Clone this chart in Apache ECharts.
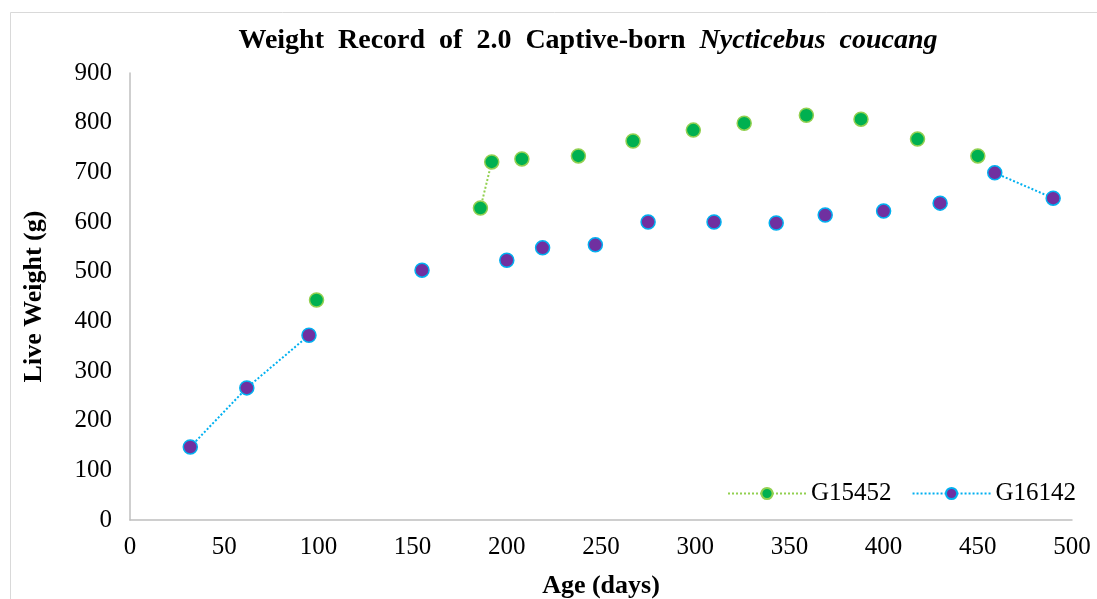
<!DOCTYPE html>
<html>
<head>
<meta charset="utf-8">
<script src="https://cdn.jsdelivr.net/npm/echarts@6.0.0/dist/echarts.min.js"></script>
<style>
  html, body { margin: 0; padding: 0; background: #fff; }
  #chart { width: 1097px; height: 599px; }
</style>
</head>
<body>
<div id="chart"></div>
<script>
// null in both arrays = a break in the dotted line
const greenAge = [99, null, 186, 192, null, 208, null, 238, null, 267, null, 299, null, 326, null, 359, null, 388, null, 418, null, 450];
const greenWeight = [443, null, 628, 721, null, 727, null, 733, null, 763, null, 785, null, 799, null, 815, null, 807, null, 767, null, 733];
const blueAge = [32, 62, 95, null, 155, null, 200, null, 219, null, 247, null, 275, null, 310, null, 343, null, 369, null, 400, null, 430, null, 459, 490];
const blueWeight = [147, 266, 372, null, 503, null, 523, null, 548, null, 554, null, 600, null, 600, null, 598, null, 614, null, 622, null, 638, null, 699, 648];
const seriesNames = ['G15452', 'G16142'];

const toPoints = (xs, ys) => xs.map((x, i) => (x === null ? '-' : [x, ys[i]]));

const font = '"Liberation Serif", "Times New Roman", serif';
const chart = echarts.init(document.getElementById('chart'));

chart.setOption({
  animation: false,
  backgroundColor: '#fff',
  title: {
    text: '{b|Weight  Record  of  2.0  Captive-born  }{i|Nycticebus  coucang}',
    left: 583,
    textAlign: 'center',
    top: 22,
    textStyle: {
      rich: {
        b: { fontFamily: font, fontSize: 28, fontWeight: 'bold', color: '#000' },
        i: { fontFamily: font, fontSize: 28, fontWeight: 'bold', fontStyle: 'italic', color: '#000' },
      },
    },
  },
  graphic: [
    {
      type: 'rect',
      shape: { x: 10.5, y: 12.5, width: 1100, height: 600 },
      style: { fill: 'none', stroke: '#d9d9d9', lineWidth: 1 },
      silent: true,
    },
  ],
  grid: { left: 130, right: 25, top: 73, bottom: 79, outerBoundsMode: 'none', containLabel: false },
  legend: {
    left: 722,
    top: 476,
    itemWidth: 78,
    itemHeight: 14,
    itemGap: 20,
    textStyle: { fontFamily: font, fontSize: 25, color: '#000' },
    data: seriesNames,
  },
  xAxis: {
    type: 'value',
    min: 0,
    max: 500,
    interval: 50,
    name: 'Age (days)',
    nameLocation: 'middle',
    nameGap: 53,
    nameTextStyle: { fontFamily: font, fontSize: 26, fontWeight: 'bold', color: '#000' },
    axisLine: { show: true, lineStyle: { color: '#bfbfbf', width: 1.5 } },
    axisTick: { show: false },
    splitLine: { show: false },
    axisLabel: { fontFamily: font, fontSize: 25, color: '#000', margin: 15 },
  },
  yAxis: {
    type: 'value',
    min: 0,
    max: 900,
    interval: 100,
    name: 'Live Weight (g)',
    nameLocation: 'middle',
    nameGap: 83,
    nameRotate: 90,
    nameTextStyle: { fontFamily: font, fontSize: 26, fontWeight: 'bold', color: '#000' },
    axisLine: { show: true, lineStyle: { color: '#bfbfbf', width: 1.5 } },
    axisTick: { show: false },
    splitLine: { show: false },
    axisLabel: { fontFamily: font, fontSize: 25, color: '#000', margin: 18 },
  },
  series: [
    {
      name: seriesNames[0],
      type: 'line',
      data: toPoints(greenAge, greenWeight),
      connectNulls: false,
      symbol: 'circle',
      symbolSize: 14,
      lineStyle: { color: '#92d050', width: 2, type: 'dotted' },
      itemStyle: { color: '#00b050', borderColor: '#92d050', borderWidth: 1.5 },
    },
    {
      name: seriesNames[1],
      type: 'line',
      data: toPoints(blueAge, blueWeight),
      connectNulls: false,
      symbol: 'circle',
      symbolSize: 14,
      lineStyle: { color: '#00b0f0', width: 2, type: 'dotted' },
      itemStyle: { color: '#7030a0', borderColor: '#00b0f0', borderWidth: 1.5 },
    },
  ],
});
</script>
</body>
</html>
